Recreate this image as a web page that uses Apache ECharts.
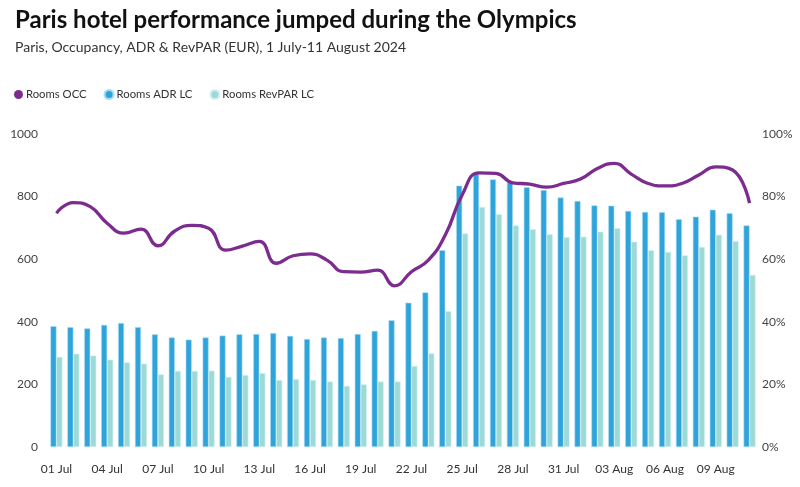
<!DOCTYPE html>
<html>
<head>
<meta charset="utf-8">
<script src="https://cdn.jsdelivr.net/npm/echarts@6/dist/echarts.min.js"></script>
<style>
html,body{margin:0;padding:0;background:#fff;}
#c{width:800px;height:487px;}
</style>
</head>
<body>
<div id="c"></div>
<script>
const categories = ['01 Jul','02 Jul','03 Jul','04 Jul','05 Jul','06 Jul','07 Jul','08 Jul','09 Jul','10 Jul','11 Jul','12 Jul','13 Jul','14 Jul','15 Jul','16 Jul','17 Jul','18 Jul','19 Jul','20 Jul','21 Jul','22 Jul','23 Jul','24 Jul','25 Jul','26 Jul','27 Jul','28 Jul','29 Jul','30 Jul','31 Jul','01 Aug','02 Aug','03 Aug','04 Aug','05 Aug','06 Aug','07 Aug','08 Aug','09 Aug','10 Aug','11 Aug'];
const adr = [386,383,379,390,396,383,360,350,343,350,356,360,361,364,355,345,350,348,361,371,405,461,494,629,835,876,855,845,830,821,797,786,772,771,754,751,750,728,736,758,747,708];
const revpar = [288,298,292,279,270,266,232,243,243,244,224,230,236,214,217,214,209,195,200,209,209,259,299,434,682,767,744,708,696,680,670,672,688,699,656,629,623,612,639,678,658,550];
const occ = [74.7,78.1,76.8,71.5,68.3,69.6,64.3,69.0,70.8,69.9,62.9,64.2,65.7,58.7,61.1,61.7,59.7,56.0,55.9,56.5,51.5,56.0,59.7,67.7,80.5,87.6,87.4,84.4,84.0,83.0,84.2,85.6,89.0,90.6,87.2,84.2,83.4,84.2,86.9,89.5,88.5,77.9];

const chart = echarts.init(document.getElementById('c'), null, {renderer:'canvas'});
const FONT = 'Lato';
chart.setOption({
  animation:false,
  backgroundColor:'#fff',
  title:{
    text:'Paris hotel performance jumped during the Olympics',
    subtext:'Paris, Occupancy, ADR & RevPAR (EUR), 1 July-11 August 2024',
    left:10, top:3, itemGap:8,
    textStyle:{fontFamily:FONT,fontSize:24,fontWeight:'bold',color:'#111'},
    subtextStyle:{fontFamily:FONT,fontSize:14,color:'#333'}
  },
  legend:{
    left:9, top:84, icon:'circle', itemWidth:9, itemHeight:9, itemGap:17,
    textStyle:{fontFamily:FONT,fontSize:11.3,color:'#333',padding:[0,0,0,-2]},
    data:['Rooms OCC','Rooms ADR LC','Rooms RevPAR LC']
  },
  grid:{left:48,right:42,top:134,bottom:40,containLabel:false},
  xAxis:{
    type:'category', data:categories,
    axisLine:{show:false}, axisTick:{show:false},
    axisLabel:{interval:2, fontFamily:FONT, fontSize:12, color:'#333', margin:16}
  },
  yAxis:[
    {type:'value',min:0,max:1000,interval:200,splitLine:{show:false},axisLine:{show:false},axisTick:{show:false},
     axisLabel:{fontFamily:FONT,fontSize:12,color:'#444',margin:10,formatter:function(v){return String(v);}}},
    {type:'value',min:0,max:100,interval:20,splitLine:{show:false},axisLine:{show:false},axisTick:{show:false},
     axisLabel:{fontFamily:FONT,fontSize:12,color:'#444',margin:4,formatter:'{value}%'}}
  ],
  series:[
    {name:'Rooms ADR LC',type:'bar',data:adr,barWidth:6,barGap:'0%',
     itemStyle:{color:'#2ea4db',borderColor:'#a9dcf3',borderWidth:0.6}},
    {name:'Rooms RevPAR LC',type:'bar',data:revpar,barWidth:6,
     itemStyle:{color:'#9bdad6',borderColor:'#d4f0ee',borderWidth:0.6}},
    {name:'Rooms OCC',type:'line',yAxisIndex:1,data:occ,smooth:0.5,symbol:'none',
     lineStyle:{color:'#7b2c8e',width:3.3},itemStyle:{color:'#7b2c8e'},z:5}
  ]
});
</script>
</body>
</html>
